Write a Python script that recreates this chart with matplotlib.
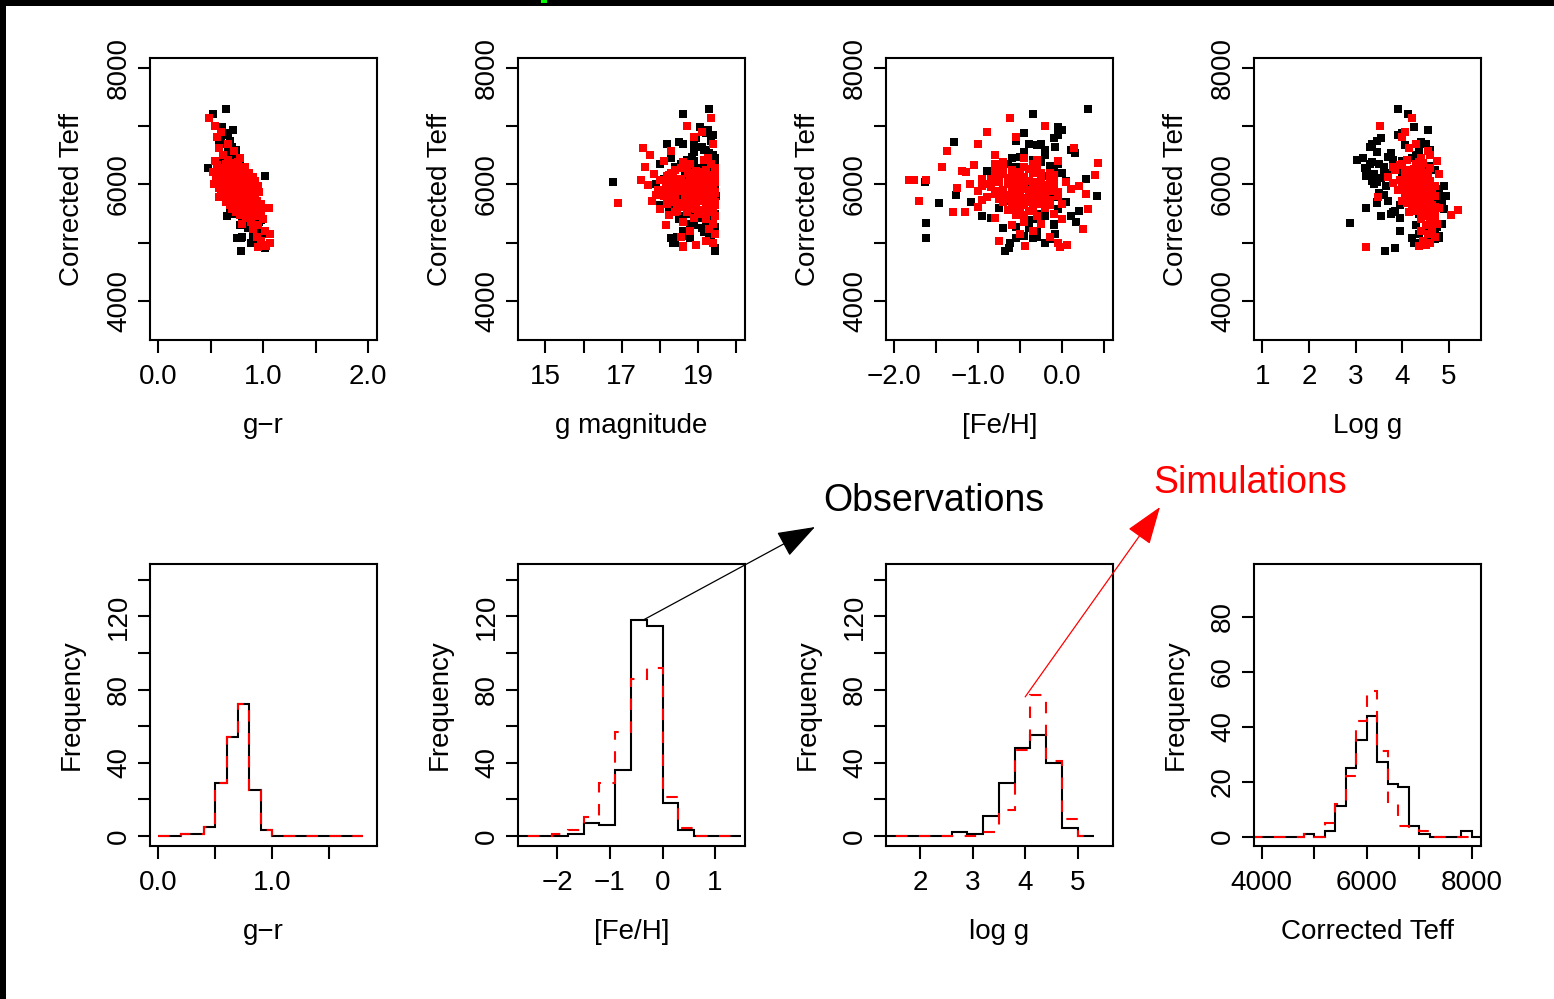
# plot.py
# Observed vs simulated stars: Teff scatter panels and histograms.

import matplotlib
matplotlib.use('Agg')
import matplotlib.pyplot as plt
from matplotlib.patches import Rectangle

plt.rcParams['font.family'] = ['Liberation Sans', 'DejaVu Sans']

# observed stars (black)
obs_teff = [7293, 7207, 6994, 6931, 6850, 6800, 6750, 6700, 6650, 6736,
            6560, 6500, 6450, 6414, 6380, 6350, 6320, 6300, 6276, 6250,
            6200, 6144, 6100, 6010, 6050, 5800, 5816, 5695, 5650, 5684,
            5598, 5550, 5500, 5454, 5400, 5350, 5340, 5300, 5250, 5200,
            5155, 5100, 5080, 5080, 5075, 5000, 4994, 4908, 4850, 5000,
            6000, 5900, 6100, 5850, 6200, 5750, 6050, 5950, 6400, 5600,
            6300, 5700, 6150, 5650, 6450, 5500, 5450, 6600, 6700, 5250,
            6600, 6480, 6420, 6360, 6250, 6180, 6120, 6060, 5980, 5920,
            5860, 5780, 5720, 5660, 5580, 5520, 5460, 5380, 5320, 5260,
            5180, 5120, 5060, 6550, 6680, 6880, 5420, 5980, 6230, 5540]
obs_gr = [0.644, 0.517, 0.61, 0.71, 0.66, 0.60, 0.68, 0.64, 0.70, 0.58,
          0.66, 0.72, 0.69, 0.62, 0.74, 0.70, 0.76, 0.65, 0.476, 0.73,
          0.80, 1.02, 0.75, 0.66, 0.72, 0.84, 0.79, 0.82, 0.88, 0.86,
          0.93, 0.90, 0.70, 0.65, 0.94, 0.96, 0.92, 0.78, 0.85, 0.95,
          0.99, 0.80, 0.75, 0.79, 0.93, 0.97, 0.88, 1.016, 0.784, 0.91,
          0.78, 0.80, 0.74, 0.83, 0.72, 0.85, 0.80, 0.75, 0.70, 0.82,
          0.69, 0.87, 0.77, 0.80, 0.73, 0.88, 0.84, 0.74, 0.62, 0.90,
          0.66, 0.70, 0.64, 0.78, 0.68, 0.82, 0.62, 0.86, 0.66, 0.90,
          0.70, 0.92, 0.74, 0.94, 0.78, 0.96, 0.80, 0.98, 0.86, 0.92,
          0.96, 0.90, 0.98, 0.70, 0.66, 0.64, 0.90, 0.92, 0.58, 0.68]
obs_gmag = [19.30, 18.60, 19.05, 19.25, 19.40, 18.95, 19.35, 18.20, 19.10, 18.50,
            18.90, 19.40, 18.30, 18.70, 19.20, 18.00, 19.45, 18.40, 19.00, 18.80,
            19.30, 19.45, 18.10, 17.90, 16.78, 19.48, 19.20, 18.70, 19.30, 18.30,
            19.35, 19.00, 18.80, 19.10, 18.50, 19.40, 19.20, 18.90, 19.45, 18.60,
            19.30, 18.45, 19.35, 18.80, 18.30, 19.40, 18.35, 19.45, 19.45, 18.40,
            18.80, 19.10, 18.50, 19.30, 19.00, 18.60, 19.40, 18.20, 18.90, 19.20,
            19.35, 18.90, 18.70, 18.00, 19.45, 19.45, 18.50, 19.20, 18.60, 19.10,
            19.15, 18.85, 19.40, 18.55, 19.25, 18.95, 19.45, 18.35, 19.05, 19.35,
            18.75, 19.20, 18.45, 19.40, 18.90, 19.10, 18.60, 19.30, 18.80, 19.45,
            19.15, 18.70, 19.35, 19.30, 18.90, 19.20, 19.00, 19.45, 18.65, 18.25]
obs_feh = [0.31, -0.35, -0.05, 0.0, -0.05, -0.10, -0.55, -0.40, -0.08, -1.29,
           -0.45, -0.20, -0.60, -0.30, -0.25, -0.65, -0.15, -0.75, -0.50, -0.10,
           0.0, -0.20, 0.28, -0.90, -1.64, 0.42, -1.26, -1.09, -0.20, -1.47,
           -0.75, 0.20, -0.55, -0.95, -0.30, 0.17, -1.62, -0.10, -0.40, -0.30,
           -0.08, -0.30, -0.55, -0.35, -1.62, -0.20, -0.05, -0.63, -0.68, -0.62,
           -0.40, -0.30, -0.50, -0.20, -0.60, -0.15, -0.35, -0.45, -0.25, -0.50,
           -0.55, 0.05, -0.15, -0.60, -0.45, -0.30, 0.10, 0.10, -0.25, -0.70,
           -0.20, -0.50, -0.35, -0.05, -0.70, -0.25, -0.45, 0.05, -0.60, -0.15,
           -0.40, -0.10, -0.65, -0.30, -0.05, -0.50, -0.20, -0.40, -0.10, -0.55,
           -0.30, -0.45, -0.15, 0.15, -0.30, -0.45, -0.85, 0.20, -0.90, -0.35]
obs_logg = [3.91, 4.12, 4.25, 4.55, 3.90, 3.55, 3.45, 3.35, 3.30, 4.40,
            3.45, 4.30, 3.15, 3.04, 3.35, 3.50, 4.60, 3.60, 3.20, 4.70,
            3.70, 3.22, 4.00, 3.40, 3.45, 4.95, 3.60, 3.45, 4.85, 3.45,
            3.22, 4.60, 3.75, 3.55, 4.40, 4.70, 2.88, 4.30, 4.55, 3.95,
            4.35, 4.70, 4.20, 4.80, 4.55, 4.45, 4.30, 3.85, 3.64, 4.25,
            4.20, 4.30, 4.10, 4.40, 4.00, 4.50, 4.25, 4.35, 4.00, 4.60,
            4.45, 4.10, 4.50, 3.95, 4.20, 4.35, 4.60, 4.60, 4.50, 4.70,
            4.35, 3.70, 3.80, 3.30, 3.60, 3.40, 3.55, 3.35, 3.65, 4.80,
            3.50, 4.85, 3.70, 4.75, 4.90, 3.80, 4.70, 4.65, 4.85, 4.75,
            4.60, 4.80, 4.70, 3.75, 4.05, 4.00, 3.95, 4.90, 3.25, 3.85]

# simulated stars (red)
sim_teff = [7150, 7006, 6900, 6822, 6700, 6632, 6575, 6500, 6450, 6400,
            6373, 6300, 6280, 6250, 6220, 6200, 6180, 6161, 6150, 6130,
            6100, 6090, 6080, 6069, 6069, 6060, 6050, 6040, 6030, 6020,
            6010, 6000, 5990, 5980, 5970, 5960, 5950, 5940, 5930, 5920,
            5910, 5900, 5890, 5880, 5870, 5860, 5850, 5840, 5830, 5820,
            5810, 5800, 5782, 5760, 5740, 5713, 5700, 5680, 5684, 5660,
            5640, 5620, 5600, 5592, 5580, 5560, 5540, 5523, 5523, 5500,
            5471, 5450, 5420, 5400, 5360, 5320, 5300, 5241, 5200, 5155,
            5100, 5034, 4994, 4950, 4937, 4925, 6120, 6070, 6030, 5980,
            5940, 5905, 5860, 5790, 5750, 6240, 6350, 5650, 6160, 5820,
            6300, 6250, 6200, 6150, 6100, 6050, 6000, 5950, 5900, 5850,
            5800, 5750, 5700, 5650, 5600, 6350, 6280, 6220, 6170, 6110,
            6060, 6010, 5960, 5910, 5860, 5810, 5760, 5710, 5660, 5610,
            6330, 6260, 6190, 6140, 6080, 6025, 5975, 5925, 5875, 5825,
            5775, 5725, 5675, 5625, 5570, 6420, 6380, 6240, 6130, 6045,
            5995, 5945, 5895, 5845, 5795, 5745, 5695, 5645, 5520, 5480]
sim_gr = [0.483, 0.54, 0.60, 0.56, 0.66, 0.58, 0.72, 0.62, 0.78, 0.54,
          0.70, 0.83, 0.60, 0.74, 0.52, 0.86, 0.66, 0.78, 0.58, 0.90,
          0.70, 0.62, 0.82, 0.55, 0.76, 0.92, 0.66, 0.84, 0.60, 0.74,
          0.88, 0.53, 0.70, 0.80, 0.95, 0.64, 0.77, 0.58, 0.86, 0.72,
          0.92, 0.62, 0.80, 0.68, 0.96, 0.75, 0.60, 0.84, 0.70, 0.90,
          0.66, 0.78, 0.58, 0.86, 0.72, 0.94, 0.64, 0.82, 0.74, 0.98,
          0.68, 0.88, 0.78, 1.057, 0.70, 0.92, 0.82, 0.74, 0.98, 0.86,
          0.78, 0.94, 0.84, 1.00, 0.88, 0.80, 0.95, 0.90, 1.02, 1.06,
          0.94, 0.98, 1.06, 1.00, 1.03, 0.95, 0.80, 0.69, 0.78, 0.62,
          0.82, 0.74, 0.88, 0.72, 0.80, 0.68, 0.64, 0.86, 0.72, 0.76,
          0.64, 0.78, 0.60, 0.84, 0.66, 0.80, 0.62, 0.86, 0.68, 0.92,
          0.72, 0.88, 0.70, 0.92, 0.76, 0.72, 0.58, 0.74, 0.64, 0.78,
          0.58, 0.76, 0.66, 0.80, 0.64, 0.84, 0.66, 0.84, 0.72, 0.88,
          0.56, 0.68, 0.80, 0.56, 0.70, 0.86, 0.68, 0.70, 0.82, 0.62,
          0.78, 0.76, 0.86, 0.80, 0.84, 0.66, 0.76, 0.66, 0.74, 0.72,
          0.78, 0.74, 0.86, 0.70, 0.82, 0.74, 0.78, 0.82, 0.88, 0.80]
sim_gmag = [19.35, 18.70, 19.10, 18.90, 19.40, 17.55, 18.30, 17.75, 19.25, 18.10,
            18.60, 17.60, 19.45, 18.40, 19.00, 18.75, 17.85, 19.30, 18.20, 19.15,
            18.55, 19.40, 17.50, 18.90, 18.00, 19.20, 18.35, 19.45, 18.70, 19.05,
            18.15, 19.30, 17.70, 18.80, 19.40, 18.45, 19.10, 18.25, 19.35, 18.60,
            19.00, 17.95, 19.25, 18.50, 19.45, 18.85, 18.30, 19.15, 18.70, 19.40,
            18.10, 19.05, 18.40, 19.30, 18.65, 17.80, 19.45, 18.95, 16.89, 18.20,
            19.20, 18.55, 19.40, 18.80, 18.00, 19.10, 18.45, 19.35, 18.70, 19.00,
            18.25, 19.45, 18.90, 19.20, 18.60, 19.40, 18.15, 19.30, 18.80, 19.45,
            18.55, 19.20, 19.40, 18.95, 18.60, 18.60, 18.90, 19.10, 18.40, 19.25,
            18.75, 18.60, 19.00, 18.85, 19.15, 18.95, 18.80, 18.75, 18.30, 17.90,
            18.65, 19.20, 18.35, 19.40, 18.85, 19.05, 18.50, 19.30, 18.15, 19.45,
            18.75, 19.10, 18.40, 19.25, 18.95, 19.35, 18.55, 19.15, 18.25, 19.45,
            18.80, 19.00, 18.45, 19.30, 18.65, 19.40, 18.20, 19.10, 18.90, 19.25,
            18.70, 19.45, 18.30, 19.05, 18.85, 19.35, 18.55, 19.20, 18.10, 19.40,
            18.75, 19.00, 18.45, 19.30, 18.95, 19.15, 18.60, 19.45, 18.35, 19.25,
            18.80, 19.05, 18.50, 19.35, 18.70, 19.10, 18.90, 19.45, 18.40, 19.20]
sim_feh = [-0.62, -0.20, -0.90, -0.55, -1.00, 0.14, -1.37, -0.80, -0.45, -0.05,
           0.425, -1.43, -0.30, -0.60, -1.15, -0.35, -0.70, 0.39, -0.50, -0.25,
           -0.95, -0.10, -1.62, -1.83, -1.77, -0.40, -0.75, 0.05, -0.55, -0.30,
           -1.10, -0.65, -0.20, -0.45, 0.20, -0.85, -0.35, -1.25, -0.50, 0.10,
           -0.70, -0.40, -0.15, -1.00, -0.60, -0.25, -0.50, 0.29, -0.80, -0.35,
           -0.60, -0.05, -0.90, -0.45, -0.15, -1.71, -0.70, -0.30, -0.55, 0.00,
           -0.50, -1.00, -0.20, -0.35, 0.31, -0.65, -0.40, -1.30, -1.16, -0.10,
           -0.55, -0.30, -0.80, 0.00, -0.45, -0.25, -0.60, 0.25, -0.35, -0.50,
           -0.15, -0.75, -0.05, 0.055, -0.44, -0.03, -0.60, -0.15, -0.30, -0.95,
           -0.10, -0.55, -0.40, -0.20, -0.75, -0.80, -0.35, -0.45, -0.25, -0.65,
           -0.45, -0.70, -0.25, -0.55, -0.85, -0.35, -0.60, -0.15, -0.50, -0.75,
           -0.30, -0.65, -0.40, -0.20, -0.55, -0.80, -0.35, -0.50, -0.10, -0.65,
           -0.45, -0.90, -0.30, -0.55, -0.20, -0.70, -0.40, -0.60, -0.25, -0.50,
           -1.05, -0.40, -0.15, -0.75, -0.55, -0.30, -0.85, -0.45, -0.05, -0.65,
           -0.35, -0.95, -0.50, -0.20, -0.60, -0.30, -0.70, -1.20, -0.45, -0.10,
           -0.60, -0.35, -0.80, -0.25, -0.50, -0.40, -0.70, -0.15, -0.55, -0.45]
sim_logg = [4.21, 3.52, 4.05, 4.00, 4.30, 4.15, 4.55, 4.60, 4.40, 4.75,
            4.45, 3.80, 4.60, 3.85, 4.20, 4.05, 4.80, 4.50, 4.30, 3.70,
            4.40, 4.15, 4.00, 4.35, 3.95, 4.60, 4.25, 4.45, 3.80, 4.10,
            4.50, 4.30, 4.20, 4.70, 4.00, 4.35, 4.55, 4.15, 4.45, 4.25,
            3.90, 4.60, 4.30, 4.10, 4.65, 4.40, 4.20, 4.50, 4.35, 4.05,
            4.70, 4.25, 3.49, 4.50, 4.30, 4.00, 4.60, 4.40, 4.10, 4.55,
            4.25, 4.70, 4.35, 4.80, 4.50, 5.20, 4.30, 4.60, 4.15, 4.45,
            5.04, 4.55, 4.70, 4.40, 4.60, 4.75, 4.50, 4.65, 4.40, 4.55,
            4.70, 4.45, 4.60, 4.50, 4.35, 3.22, 4.20, 4.35, 4.45, 4.30,
            4.20, 4.50, 4.15, 4.40, 4.30, 4.25, 4.30, 4.20, 4.40, 4.55,
            4.30, 4.10, 4.45, 4.25, 4.55, 4.05, 4.35, 4.60, 4.20, 4.40,
            4.15, 4.50, 4.30, 4.65, 4.25, 4.00, 4.40, 4.20, 4.55, 4.35,
            4.10, 4.45, 4.25, 4.60, 4.30, 4.50, 4.15, 4.40, 4.55, 4.35,
            3.95, 4.25, 4.50, 4.15, 4.35, 4.60, 4.20, 4.45, 4.05, 4.30,
            4.55, 4.40, 4.25, 4.65, 4.50, 4.10, 4.35, 4.20, 4.45, 4.30,
            4.55, 4.15, 4.40, 4.25, 4.60, 4.35, 4.50, 4.45, 4.60, 4.70]

# histogram bins and counts
gr_edges = [0.0, 0.1, 0.2, 0.3, 0.4, 0.5, 0.6, 0.7, 0.8, 0.9,
            1.0, 1.1, 1.2, 1.3, 1.4, 1.5, 1.6, 1.7, 1.8]
gr_obs_counts = [0, 0, 1, 1, 5, 29, 54, 72, 25, 3, 0, 0, 0, 0, 0, 0, 0, 0]
gr_sim_counts = [0, 0, 1, 1, 5, 29, 54, 72, 25, 3, 0, 0, 0, 0, 0, 0, 0, 0]

feh_edges = [-3.0, -2.7, -2.4, -2.1, -1.8, -1.5, -1.2, -0.9, -0.6, -0.3,
             0.0, 0.3, 0.6, 0.9, 1.2, 1.5]
feh_obs_counts = [0, 0, 0, 0, 1, 7, 6, 36, 118, 115, 18, 3, 0, 0, 0]
feh_sim_counts = [0, 0, 0, 1, 3, 10, 29, 57, 86, 92, 21, 4, 0, 0, 0]

logg_edges = [1.1, 1.4, 1.7, 2.0, 2.3, 2.6, 2.9, 3.2, 3.5, 3.8, 4.1, 4.4, 4.7, 5.0, 5.3]
logg_obs_counts = [0, 0, 0, 0, 0, 2, 1, 11, 29, 48, 55, 40, 4, 0]
logg_sim_counts = [0, 0, 0, 0, 0, 0, 0, 2, 14, 47, 77, 41, 9, 0]

teff_edges = [3800, 4000, 4200, 4400, 4600, 4800, 5000, 5200, 5400, 5600, 5800, 6000,
              6200, 6400, 6600, 6800, 7000, 7200, 7400, 7600, 7800, 8000, 8200]
teff_obs_counts = [0, 0, 0, 0, 0, 1, 0, 2, 11, 25, 35, 44, 27, 19, 18, 4, 1, 0, 0, 0, 2, 0]
teff_sim_counts = [0, 0, 0, 0, 0, 1, 0, 5, 12, 22, 42, 53, 31, 12, 4, 3, 2, 0, 0, 0, 0, 0]

FONT_SIZE = 20
WIDTH_PX, HEIGHT_PX = 1554, 999
COLUMN_LEFTS = [150, 518, 886, 1254]
BOX_WIDTH = 226.5
MARKER_AREA = 30


def make_axis(figure, column, top_px, bottom_px):
    # Places an axis using pixel positions from the image top
    left = COLUMN_LEFTS[column] / WIDTH_PX
    bottom = (HEIGHT_PX - bottom_px) / HEIGHT_PX
    return figure.add_axes([left, bottom, BOX_WIDTH / WIDTH_PX, (bottom_px - top_px) / HEIGHT_PX])


def style_axis(axis, xlim, ylim, xticks, xlabels, yticks, ylabels, xlabel, ylabel):
    # R-like box, outward ticks and rotated y tick labels
    axis.set_xlim(xlim)
    axis.set_ylim(ylim)
    axis.set_xticks(xticks, xlabels)
    axis.set_yticks(yticks, ylabels)
    axis.tick_params(direction='out', length=9, width=1.5, labelsize=FONT_SIZE, pad=8)
    axis.tick_params(axis='y', labelrotation=90, pad=4)
    for tick_label in axis.get_yticklabels():
        tick_label.set_va('center')
    for spine in axis.spines.values():
        spine.set_linewidth(1.5)
    axis.set_xlabel(xlabel, fontsize=FONT_SIZE)
    axis.xaxis.set_label_coords(0.5, -0.33)
    axis.xaxis.label.set_va('baseline')
    axis.set_ylabel(ylabel, fontsize=FONT_SIZE)
    axis.yaxis.set_label_coords(-0.313, 0.5)
    axis.yaxis.label.set_va('baseline')


def scatter_panel(axis, obs_x, sim_x):
    axis.scatter(obs_x, obs_teff, marker='s', s=MARKER_AREA, c='black', linewidths=0)
    axis.scatter(sim_x, sim_teff, marker='s', s=MARKER_AREA, c='#ff0000', linewidths=0)


def hist_panel(axis, edges, obs_counts, sim_counts):
    axis.stairs(obs_counts, edges, baseline=None, color='black', linewidth=1.5)
    axis.stairs(sim_counts, edges, baseline=None, color='#ff0000', linewidth=1.5,
                linestyle=(0, (5.5, 5.5)))


fig = plt.figure(figsize=(WIDTH_PX / 100, HEIGHT_PX / 100), dpi=100)
fig.patch.set_facecolor('white')

teff_ticks = [4000, 5000, 6000, 7000, 8000]
teff_labels = ['4000', '', '6000', '', '8000']
teff_ylim = (3320, 8180)

# top row: Teff against each parameter
axis = make_axis(fig, 0, 58, 340)
scatter_panel(axis, obs_gr, sim_gr)
style_axis(axis, (-0.08, 2.08), teff_ylim, [0, 0.5, 1, 1.5, 2], ['0.0', '', '1.0', '', '2.0'],
           teff_ticks, teff_labels, 'g\u2212r', 'Corrected Teff')

axis = make_axis(fig, 1, 58, 340)
scatter_panel(axis, obs_gmag, sim_gmag)
style_axis(axis, (14.28, 20.22), teff_ylim, [15, 16, 17, 18, 19, 20], ['15', '', '17', '', '19', ''],
           teff_ticks, teff_labels, 'g magnitude', 'Corrected Teff')

axis = make_axis(fig, 2, 58, 340)
scatter_panel(axis, obs_feh, sim_feh)
style_axis(axis, (-2.1, 0.6), teff_ylim, [-2, -1.5, -1, -0.5, 0, 0.5],
           ['\u22122.0', '', '\u22121.0', '', '0.0', ''],
           teff_ticks, teff_labels, '[Fe/H]', 'Corrected Teff')

axis = make_axis(fig, 3, 58, 340)
scatter_panel(axis, obs_logg, sim_logg)
style_axis(axis, (0.82, 5.68), teff_ylim, [1, 2, 3, 4, 5], ['1', '2', '3', '4', '5'],
           teff_ticks, teff_labels, 'Log g', 'Corrected Teff')

# bottom row: histograms
freq_ticks = [0, 20, 40, 60, 80, 100, 120, 140]
freq_labels = ['0', '', '40', '', '80', '', '120', '']
freq_ylim = (-5.6, 148.7)

axis = make_axis(fig, 0, 564, 846)
hist_panel(axis, gr_edges, gr_obs_counts, gr_sim_counts)
style_axis(axis, (-0.073, 1.917), freq_ylim, [0, 0.5, 1, 1.5], ['0.0', '', '1.0', ''],
           freq_ticks, freq_labels, 'g\u2212r', 'Frequency')

feh_axis = make_axis(fig, 1, 564, 846)
hist_panel(feh_axis, feh_edges, feh_obs_counts, feh_sim_counts)
style_axis(feh_axis, (-2.75, 1.56), freq_ylim, [-2, -1, 0, 1], ['\u22122', '\u22121', '0', '1'],
           freq_ticks, freq_labels, '[Fe/H]', 'Frequency')

logg_axis = make_axis(fig, 2, 564, 846)
hist_panel(logg_axis, logg_edges, logg_obs_counts, logg_sim_counts)
style_axis(logg_axis, (1.354, 5.66), freq_ylim, [2, 3, 4, 5], ['2', '3', '4', '5'],
           freq_ticks, freq_labels, 'log g', 'Frequency')

axis = make_axis(fig, 3, 564, 846)
hist_panel(axis, teff_edges, teff_obs_counts, teff_sim_counts)
style_axis(axis, (3853, 8171), (-3.4, 99.1), teff_ticks, teff_labels,
           [0, 20, 40, 60, 80], ['0', '20', '40', '60', '80'], 'Corrected Teff', 'Frequency')

# annotation arrows pointing at the peaks
feh_axis.annotate('', xy=(815, HEIGHT_PX - 527), xycoords='figure pixels',
                  xytext=(-0.37, 118), textcoords='data', annotation_clip=False,
                  arrowprops=dict(arrowstyle='-|>,head_length=2.4,head_width=0.85',
                                  mutation_scale=10, color='black', lw=0.9,
                                  shrinkA=0, shrinkB=0))
logg_axis.annotate('', xy=(1160, HEIGHT_PX - 507), xycoords='figure pixels',
                   xytext=(4.0, 76), textcoords='data', annotation_clip=False,
                   arrowprops=dict(arrowstyle='-|>,head_length=2.4,head_width=0.85',
                                   mutation_scale=10, color='#ff0000', lw=0.9,
                                   shrinkA=0, shrinkB=0))
fig.text(823 / WIDTH_PX, (HEIGHT_PX - 511) / HEIGHT_PX, 'Observations',
         fontsize=27, color='black', ha='left', va='baseline')
fig.text(1153 / WIDTH_PX, (HEIGHT_PX - 493) / HEIGHT_PX, 'Simulations',
         fontsize=27, color='#ff0000', ha='left', va='baseline')

# black frame strips along the top and left edge of the image
fig.add_artist(Rectangle((0, 1 - 6 / HEIGHT_PX), 1, 6 / HEIGHT_PX, transform=fig.transFigure,
                         facecolor='black', edgecolor='none', zorder=10))
fig.add_artist(Rectangle((0, 0), 6 / WIDTH_PX, 1, transform=fig.transFigure,
                         facecolor='black', edgecolor='none', zorder=10))
fig.add_artist(Rectangle((541 / WIDTH_PX, 1 - 3 / HEIGHT_PX), 6 / WIDTH_PX, 3 / HEIGHT_PX,
                         transform=fig.transFigure, facecolor='#00ff00', edgecolor='none', zorder=11))

fig.savefig('out.png', dpi=100)
plt.close(fig)
